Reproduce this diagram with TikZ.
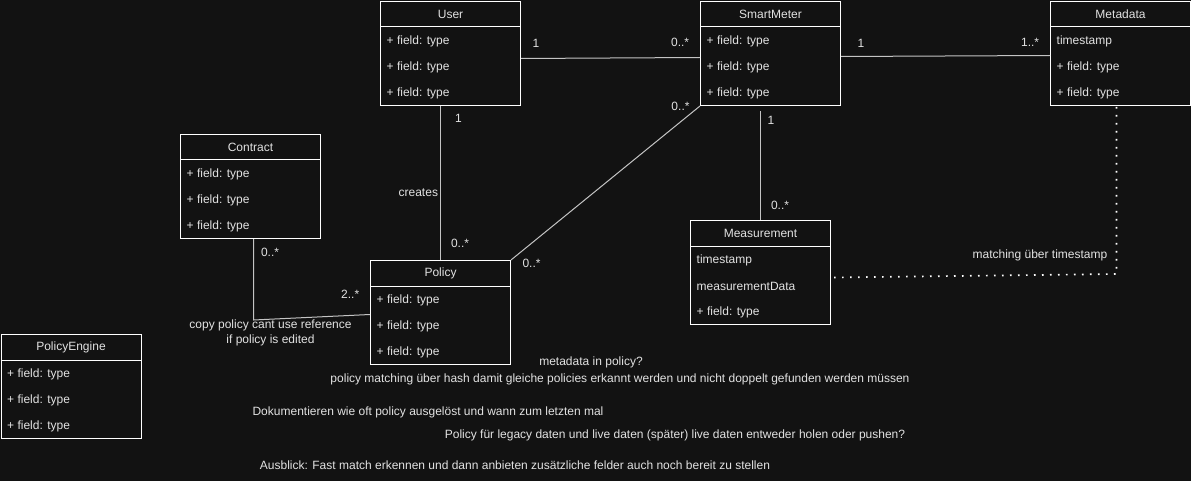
\documentclass[tikz,border=0pt]{standalone}
\usepackage{fontspec}
\setmainfont{Liberation Sans}
\usepackage{tikz}
\usetikzlibrary{positioning}

\definecolor{canvas}{HTML}{121212}
\definecolor{ink}{HTML}{E2E2E2}
\definecolor{wire}{HTML}{C4C4C4}

\tikzset{
  umlbox/.style={draw=white, line width=1pt, minimum width=140pt, minimum height=104pt, inner sep=0pt, anchor=north west},
  umlrow/.style={anchor=west, inner sep=0pt, text=ink},
  assoc/.style={draw=wire, line width=1pt},
  matchlink/.style={draw=white, line width=1.7pt, dash pattern=on 1.7pt off 6.3pt},
  mult/.style={inner sep=1pt, text=ink},
  note/.style={inner sep=0pt, text=ink, align=center, font=\fontsize{12}{15}\selectfont},
}

% name, position, title, three rows
\newcommand{\umlclass}[6]{%
  \node (#1) [umlbox] at #2 {};
  \node (#1-title) [text=ink, inner sep=0pt] at ([yshift=-13pt]#1.north) {#3};
  \draw[white, line width=1pt] ([yshift=-26pt]#1.north west) -- ([yshift=-26pt]#1.north east);
  \node (#1-a) [umlrow] at ([xshift=6.5pt,yshift=-40pt]#1.north west) {#4};
  \node (#1-b) [umlrow] at ([xshift=6.5pt,yshift=-66pt]#1.north west) {#5};
  \node (#1-c) [umlrow] at ([xshift=6.5pt,yshift=-92pt]#1.north west) {#6};
}

\begin{document}
\begin{tikzpicture}[x=1pt, y=-1pt, font=\fontsize{12}{14}\selectfont]
    \fill[canvas] (0,0) rectangle (1191,481);
    \useasboundingbox (0,0) rectangle (1191,481);

    \umlclass{user}{(380,1)}{User}{+ field: type}{+ field: type}{+ field: type}
    \umlclass{meter}{(700,1)}{SmartMeter}{+ field: type}{+ field: type}{+ field: type}
    \umlclass{metadata}{(1050,1)}{Metadata}{timestamp}{+ field: type}{+ field: type}
    \umlclass{contract}{(180,134)}{Contract}{+ field: type}{+ field: type}{+ field: type}
    \umlclass{policy}{(370,260)}{Policy}{+ field: type}{+ field: type}{+ field: type}
    \umlclass{measurement}{(690,220)}{Measurement}{timestamp}{measurementData}{+ field: type}
    \umlclass{engine}{(0.5,334)}{PolicyEngine}{+ field: type}{+ field: type}{+ field: type}

    \coordinate (cbend) at ([xshift=3pt]contract.south |- 0,320);
    \coordinate (mcorner) at ([xshift=-4pt]metadata.south |- 0,274);

    \path[assoc]
    ([yshift=-5pt]user.east) edge node[mult, pos=0.083, above=9.5pt] {1}
        node[mult, pos=0.889, above=9.5pt] {0..*} ([yshift=-4pt]meter.west)
    ([yshift=-3pt]meter.east) edge node[mult, pos=0.095, above=7.7pt] {1}
        node[mult, pos=0.905, above=7.7pt] {1..*} ([yshift=-2pt]metadata.west)
    (policy.north |- user.south) edge node[mult, pos=0.08, right=13pt] {1}
        node[mult, pos=0.56, left=1pt] {creates}
        node[mult, pos=0.89, right=9pt] {0..*} (policy.north)
    (meter.south west) edge node[mult, pos=0, left=9pt] {0..*}
        node[mult, pos=1, right=10pt, yshift=-3pt] {0..*} (policy.north east)
    ([yshift=-5pt]measurement.north |- meter.south) edge node[mult, pos=0.09, right=5.5pt] {1}
        node[mult, pos=0.87, right=9pt] {0..*} (measurement.north);

    \draw[assoc] ([xshift=3pt]contract.south) -- node[mult, pos=0.17, right=6pt] {0..*} (cbend)
        -- node[mult, pos=0.83, above=15pt] {2..*} ([yshift=-2pt]policy.west);
    \node (copynote) [note, anchor=north] at ([xshift=17pt]cbend) {copy policy cant use reference\\if policy is edited};

    \draw[matchlink] ([xshift=3pt,yshift=-5pt]measurement.east) -- (mcorner) -- ([xshift=-4pt]metadata.south);
    \node (matchnote) [note, anchor=east] at ([xshift=-9pt,yshift=19pt]mcorner) {matching über timestamp};

    % loose notes
    \node (note1) [note] at (591,362) {metadata in policy?};
    \node (note2) [note] at (620,379) {policy matching über hash damit gleiche policies erkannt werden und nicht doppelt gefunden werden müssen};
    \node (note3) [note] at (428,412) {Dokumentieren wie oft policy ausgelöst und wann zum letzten mal};
    \node (note4) [note] at (675,435) {Policy für legacy daten und live daten (später) live daten entweder holen oder pushen?};
    \node (note5) [note] at (515,465) {Ausblick: Fast match erkennen und dann anbieten zusätzliche felder auch noch bereit zu stellen};

\end{tikzpicture}
\end{document}
